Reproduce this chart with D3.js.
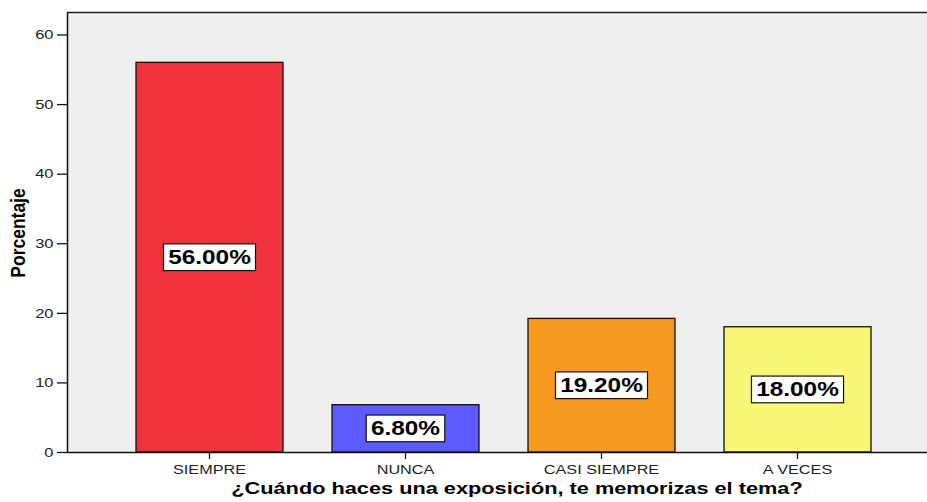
<!DOCTYPE html>
<html><head><meta charset="utf-8">
<script src="https://cdn.jsdelivr.net/npm/d3@7"></script>
<style>body{margin:0;background:#fff}svg{display:block}text{font-family:"Liberation Sans",Arial,sans-serif}</style>
</head><body><svg id="c" width="927" height="502"></svg>
<script>
const categories = ["SIEMPRE","NUNCA","CASI SIEMPRE","A VECES"];
const values = [56.0, 6.8, 19.2, 18.0];
const labels = ["56.00%","6.80%","19.20%","18.00%"];
const colors = ["#f0333a","#5b5bff","#f89a20","#f8f777"];
const yTicks = [0,10,20,30,40,50,60];

const SX = 1.22; // horizontal text stretch seen in the reference
const svg = d3.select("#c");
const pL = 67, pR = 927, pT = 12, pB = 452;
const y = d3.scaleLinear().domain([0,60]).range([pB, 34.5]);
const x = d3.scaleBand().domain(categories).range([111.5, 895.5]).paddingInner(0.25).paddingOuter(0.125);

svg.append("rect").attr("x",pL).attr("y",pT).attr("width",pR-pL).attr("height",pB-pT).attr("fill","#efefef");
svg.append("line").attr("x1",pL).attr("x2",pR).attr("y1",pT+0.5).attr("y2",pT+0.5).attr("stroke","#222").attr("stroke-width",1.5);

svg.selectAll("rect.bar").data(values).join("rect").attr("class","bar")
  .attr("x",(d,i)=>x(categories[i])).attr("width",x.bandwidth())
  .attr("y",d=>y(d)).attr("height",d=>pB-y(d))
  .attr("fill",(d,i)=>colors[i]).attr("stroke","#111").attr("stroke-width",1.3);

// value labels
const g = svg.append("g");
values.forEach((v,i)=>{
  const cx = x(categories[i]) + x.bandwidth()/2, cy = y(v/2);
  const t = g.append("text").attr("transform",`translate(${cx},${cy+7}) scale(1.25,1)`).attr("text-anchor","middle")
    .attr("font-size",19.5).attr("font-weight","bold").attr("fill","#000").text(labels[i]);
  const w = t.node().getBBox().width*1.25;
  g.insert("rect","text").attr("x",cx-w/2-4.5).attr("y",cy-13.3).attr("width",w+9).attr("height",26.7)
    .attr("fill","#fff").attr("stroke","#111").attr("stroke-width",1.2);
});

// y axis
const ya = svg.append("g").attr("transform",`translate(${pL},0)`)
  .call(d3.axisLeft(y).tickValues(yTicks).tickSize(10).tickPadding(3.5));
ya.select(".domain").attr("d",`M0.5,${pT}V${pB}`).attr("stroke","#111").attr("stroke-width",1.5);
ya.selectAll(".tick line").attr("stroke","#111").attr("stroke-width",1.3);
ya.selectAll(".tick text").attr("font-size",13.5).attr("fill","#222").style("font-family","Liberation Sans, Arial, sans-serif")
  .attr("x",-13.5/SX).attr("transform",`scale(${SX},1)`);

// x axis
const xa = svg.append("g").attr("transform",`translate(0,${pB})`)
  .call(d3.axisBottom(x).tickSize(7).tickPadding(4));
xa.select(".domain").attr("d",`M${pL},0.5H${pR}`).attr("stroke","#111").attr("stroke-width",1.5);
xa.selectAll(".tick line").attr("stroke","#111").attr("stroke-width",1.3);
xa.selectAll(".tick text").attr("font-size",13.3).attr("fill","#222").style("font-family","Liberation Sans, Arial, sans-serif")
  .attr("dy",null).attr("y",22).attr("transform",`scale(${SX},1)`);

svg.append("text").attr("transform",`translate(517,494) scale(1.25,1)`).attr("text-anchor","middle").attr("font-size",17.4).attr("font-weight","bold")
  .text("¿Cuándo haces una exposición, te memorizas el tema?");
svg.append("text").attr("transform","translate(25,233) rotate(-90) scale(1,1.12)").attr("text-anchor","middle").attr("font-size",17.5).attr("font-weight","bold")
  .text("Porcentaje");
</script></body></html>
